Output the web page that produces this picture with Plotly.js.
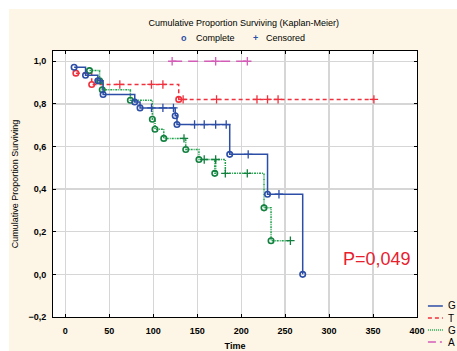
<!DOCTYPE html>
<html>
<head>
<meta charset="utf-8">
<script src="https://cdn.plot.ly/plotly-3.0.1.min.js"></script>
<style>
  html, body { margin: 0; padding: 0; background: #ffffff; width: 457px; height: 351px; overflow: hidden; }
  #chart { position: absolute; left: 9px; top: 9px; width: 448px; height: 342px; }
</style>
</head>
<body>
<div id="chart"></div>
<script>
// ---- Data ----
// Group G (blue, solid)
const blueEventT = [10, 23, 37, 43, 79, 85, 125, 127, 187, 230, 270];
const blueEventS = [0.972, 0.934, 0.908, 0.844, 0.809, 0.781, 0.744, 0.703, 0.563, 0.376, 0.0];
const blueCensT  = [98, 111, 123, 147, 158, 171, 183, 208, 243];
const blueCensS  = [0.781, 0.781, 0.781, 0.703, 0.703, 0.703, 0.703, 0.563, 0.376];

// Group T (red, dashed)
const redEventT = [12, 30, 129];
const redEventS = [0.944, 0.891, 0.821];
const redCensT  = [62, 98, 111, 134, 172, 218, 230, 242, 351];
const redCensS  = [0.891, 0.891, 0.891, 0.821, 0.821, 0.821, 0.821, 0.821, 0.821];

// Group G (green, dotted)
const greenEventT = [27.5, 39, 42, 74, 99, 102, 112, 137, 152, 170, 226, 234];
const greenEventS = [0.956, 0.908, 0.866, 0.817, 0.728, 0.681, 0.638, 0.586, 0.539, 0.474, 0.312, 0.158];
const greenCensT  = [135, 158, 171, 182, 207, 256];
const greenCensS  = [0.638, 0.539, 0.539, 0.474, 0.474, 0.158];

// Group A (magenta, dash-dot) - censored only
const magentaCensT = [121.5, 171, 207];
const magentaCensS = [1.0, 1.0, 1.0];

const groupNames = ['G', 'T', 'G', 'A'];
const xTicks = [0, 50, 100, 150, 200, 250, 300, 350, 400];
const yTicks = [-0.2, 0.0, 0.2, 0.4, 0.6, 0.8, 1.0];
const pValueText = 'P=0,049';

// ---- Styles ----
const colBlue = '#2c4ea6';
const colRed = '#f0303c';
const colGreen = '#1fa24c';
const colGreenMk = '#138040';
const colMag = '#d25cb6';

function stepLine(evT, evS, cT, cS) {
  const pts = [];
  evT.forEach((t, i) => pts.push([t, evS[i]]));
  cT.forEach((t, i) => pts.push([t, cS[i]]));
  pts.sort((a, b) => a[0] - b[0]);
  return { x: pts.map(p => p[0]), y: pts.map(p => p[1]) };
}

function groupTraces(evT, evS, cT, cS, lineCol, mkCol, dash) {
  const ln = stepLine(evT, evS, cT, cS);
  const out = [{
    x: ln.x, y: ln.y, mode: 'lines', type: 'scatter',
    line: { shape: 'hv', color: lineCol, width: 1.5, dash: dash },
    showlegend: false, hoverinfo: 'skip'
  }];
  if (evT.length) out.push({
    x: evT, y: evS, mode: 'markers', type: 'scatter',
    marker: { symbol: 'circle-open', size: 5.5, color: mkCol, line: { width: 1.6, color: mkCol } },
    showlegend: false
  });
  out.push({
    x: cT, y: cS, mode: 'markers', type: 'scatter',
    marker: { symbol: 'cross-thin-open', size: 6, color: mkCol, line: { width: 1.3, color: mkCol } },
    showlegend: false
  });
  return out;
}

const traces = [].concat(
  groupTraces([], [], magentaCensT, magentaCensS, colMag, colMag, '10px,6px'),
  groupTraces(redEventT, redEventS, redCensT, redCensS, colRed, colRed, '4px,3px'),
  groupTraces(greenEventT, greenEventS, greenCensT, greenCensS, colGreen, colGreenMk, '2px,1px,1px,1px'),
  groupTraces(blueEventT, blueEventS, blueCensT, blueCensS, colBlue, colBlue, 'solid')
);

const fontFam = 'Arial, "Liberation Sans", sans-serif';

// Legend at the lower right (partly outside the page, like the reference)
const legendStyles = [
  { color: colBlue, dash: 'solid' },
  { color: colRed, dash: '4px,3px' },
  { color: colGreen, dash: '1px,1px' },
  { color: colMag, dash: '8px,4px,2px,4px' }
];
const legendY = [0.0414, -0.0038, -0.0489, -0.0940];
const shapes = [];
const annotations = [];
groupNames.forEach((name, i) => {
  shapes.push({
    type: 'line', xref: 'paper', yref: 'paper',
    x0: 1.03, x1: 1.071, y0: legendY[i], y1: legendY[i],
    line: { color: legendStyles[i].color, width: 1.5, dash: legendStyles[i].dash }
  });
  annotations.push({
    xref: 'paper', yref: 'paper', x: 1.080, y: legendY[i],
    xanchor: 'left', yanchor: 'middle', showarrow: false,
    text: name, font: { family: fontFam, size: 10, color: '#000' }
  });
});

// Top legend: Complete / Censored
annotations.push(
  { xref: 'paper', yref: 'paper', x: 0.36, y: 1.049, xanchor: 'center', yanchor: 'middle', showarrow: false,
    text: '<b>o</b>', font: { family: fontFam, size: 9, color: colBlue } },
  { xref: 'paper', yref: 'paper', x: 0.386, y: 1.049, xanchor: 'left', yanchor: 'middle', showarrow: false,
    text: 'Complete', font: { family: fontFam, size: 9, color: '#000' } },
  { xref: 'paper', yref: 'paper', x: 0.555, y: 1.049, xanchor: 'center', yanchor: 'middle', showarrow: false,
    text: '<b>+</b>', font: { family: fontFam, size: 9, color: colBlue } },
  { xref: 'paper', yref: 'paper', x: 0.580, y: 1.049, xanchor: 'left', yanchor: 'middle', showarrow: false,
    text: 'Censored', font: { family: fontFam, size: 9, color: '#000' } },
  { xref: 'paper', yref: 'paper', x: 0.989, y: 0.218, xanchor: 'right', yanchor: 'middle', showarrow: false,
    text: pValueText, font: { family: fontFam, size: 18, color: '#e8202e' } }
);

const layout = {
  width: 448, height: 342,
  margin: { l: 44, r: 40, t: 42, b: 34 },
  paper_bgcolor: '#fdf6e6',
  plot_bgcolor: '#ffffff',
  separators: ', ',
  showlegend: false,
  font: { family: fontFam, size: 9, color: '#000' },
  title: {
    text: 'Cumulative Proportion Surviving (Kaplan-Meier)',
    font: { family: fontFam, size: 9, color: '#000' },
    x: 0.524, xanchor: 'center', y: 0.959, yanchor: 'middle'
  },
  xaxis: {
    range: [-14, 400],
    tickvals: xTicks,
    ticktext: xTicks.map(String),
    ticks: 'inside', ticklen: 3, tickwidth: 1, tickcolor: '#000',
    showline: true, linecolor: '#000', linewidth: 1, mirror: 'ticks',
    showgrid: true, gridcolor: '#d6d6d6', gridwidth: 1.3,
    zeroline: false,
    tickfont: { family: fontFam, size: 9, color: '#000', weight: 'bold' },
    ticklabelstandoff: 5,
    title: { text: 'Time', font: { family: fontFam, size: 9, color: '#000', weight: 'bold' }, standoff: 11 }
  },
  yaxis: {
    range: [-0.2, 1.048],
    tickvals: yTicks,
    tickformat: '.1f',
    ticks: 'inside', ticklen: 3, tickwidth: 1, tickcolor: '#000',
    showline: true, linecolor: '#000', linewidth: 1, mirror: 'ticks',
    showgrid: true, gridcolor: '#d6d6d6', gridwidth: 1.3,
    zeroline: false,
    tickfont: { family: fontFam, size: 9, color: '#000', weight: 'bold' },
    ticklabelstandoff: 4,
    title: { text: 'Cumulative Proportion Surviving', font: { family: fontFam, size: 9, color: '#000' }, standoff: 8 }
  },
  shapes: shapes,
  annotations: annotations
};

Plotly.newPlot('chart', traces, layout, { staticPlot: true, displayModeBar: false });
</script>
</body>
</html>
